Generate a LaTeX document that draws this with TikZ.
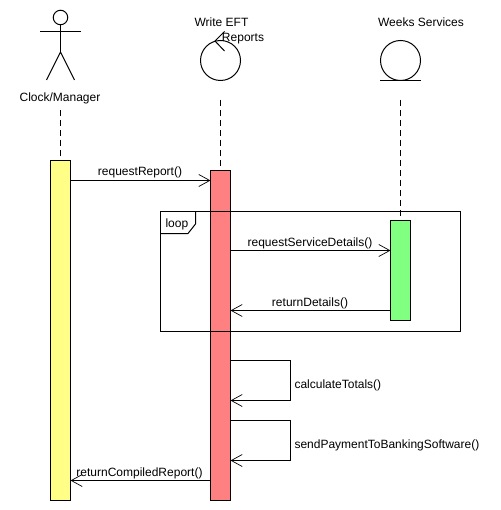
\documentclass[tikz,border=0pt]{standalone}
\usepackage{fontspec}
\setmainfont{Liberation Sans}
\usetikzlibrary{arrows.meta,calc}
\tikzset{
  x=1pt,y=-1pt,
  every path/.style={line width=1pt},
  lbl/.style={inner sep=0pt,font=\fontsize{12}{14}\selectfont,anchor=base},
  bar/.style={draw=black,rectangle,inner sep=0pt,minimum width=20pt,outer sep=0pt},
  lifeline/.style={draw=black,dash pattern=on 6pt off 4pt},
  msg/.style={draw=black,-{Straight Barb[length=11pt,width=12pt,line width=0.7pt]}},
  round/.style={draw=black,circle,inner sep=0pt,minimum size=40pt},
}
\definecolor{actY}{HTML}{FFFF88}
\definecolor{actR}{HTML}{FF8080}
\definecolor{actG}{HTML}{80FF80}
\begin{document}
\begin{tikzpicture}
\useasboundingbox (0,0) rectangle (500,510);
% actor
\node[draw=black,circle,inner sep=0pt,minimum size=14.5pt] (head) at (60.5,17.5) {};
\coordinate (hip) at (60.5,52);
\coordinate (armL) at (40,31.5);
\coordinate (armR) at (81,31.5);
\coordinate (legL) at (46.5,80);
\coordinate (legR) at (74.5,80);
\draw (head.south) -- (hip);
\draw (armL) -- (armR);
\draw (legL) -- (hip) -- (legR);
\node[lbl] (lblA) at (60,102) {Clock/Manager};
% control
\node[round] (ctrl) at (220.5,60.5) {};
\coordinate (cv) at (215,41);
\coordinate (c1) at (224.5,31.5);
\coordinate (c2) at (224.5,51);
\draw (c1) -- (cv) -- (c2);
\node[lbl] (lblB1) at (221.5,27) {Write EFT};
\node[lbl] (lblB2) at (243,42) {Reports};
% entity
\node[round] (ent) at (400.5,60.5) {};
\coordinate (e1) at (380,80.5);
\coordinate (e2) at (421,80.5);
\draw (e1) -- (e2);
\node[lbl] (lblC) at (421,27) {Weeks Services};
% activations
\node[bar,fill=actY,minimum height=340pt] (ay) at (60.5,330.5) {};
\node[bar,fill=actR,minimum height=330pt] (ar) at (220.5,335.5) {};
\node[bar,fill=actG,minimum height=100pt] (ag) at (400.5,270.5) {};
% lifelines
\coordinate (lA) at (60.5,110);
\coordinate (lB) at (220.5,100);
\coordinate (lC) at (400.5,100);
\draw[lifeline] (lA) -- (ay.north);
\draw[lifeline] (lB) -- (ar.north);
\draw[lifeline] (lC) -- (ag.north);
% loop frame
\node[draw=black,rectangle,inner sep=0pt,minimum width=300pt,minimum height=120pt] (frame) at (310.5,271.5) {};
\coordinate (f1) at (195.5,211.5);
\coordinate (f2) at (195.5,224);
\coordinate (f3) at (188,233.5);
\coordinate (f4) at (160.5,233.5);
\draw (f1) -- (f2) -- (f3) -- (f4);
\node[lbl,anchor=base west] (lblLoop) at (165,228) {loop};
% messages
\coordinate (m1) at (0,180.5);
\coordinate (m2) at (0,250.5);
\coordinate (m3) at (0,310.5);
\coordinate (m4) at (0,480.5);
\draw[msg] (ay.east |- m1) -- (ar.west |- m1);
\draw[msg] (ar.east |- m2) -- (ag.west |- m2);
\draw[msg] (ag.west |- m3) -- (ar.east |- m3);
\draw[msg] (ar.west |- m4) -- (ay.east |- m4);
\node[lbl] (t1) at (140,176) {requestReport()};
\node[lbl] (t2) at (310,246) {requestServiceDetails()};
\node[lbl] (t3) at (310,306) {returnDetails()};
\node[lbl] (t4) at (139.5,476) {returnCompiledReport()};
% self calls
\coordinate (s1a) at (290.5,360.5);
\coordinate (s1b) at (290.5,400.5);
\coordinate (s2a) at (290.5,420.5);
\coordinate (s2b) at (290.5,460.5);
\draw[msg] (ar.east |- s1a) -- (s1a) -- (s1b) -- (ar.east |- s1b);
\draw[msg] (ar.east |- s2a) -- (s2a) -- (s2b) -- (ar.east |- s2b);
\node[lbl,anchor=base west] (t5) at (294,388) {calculateTotals()};
\node[lbl,anchor=base west] (t6) at (294,448) {sendPaymentToBankingSoftware()};
\end{tikzpicture}
\end{document}
